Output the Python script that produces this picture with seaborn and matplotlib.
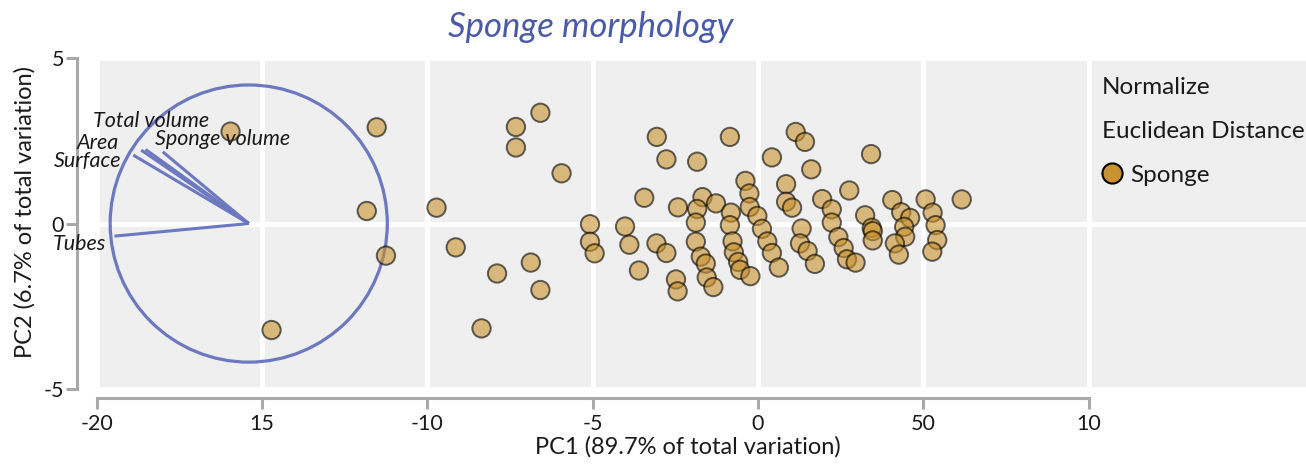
import matplotlib
matplotlib.use("Agg")
import matplotlib.pyplot as plt
from matplotlib.patches import Circle
import pandas as pd
import seaborn as sns

# PCA scores of the sponge samples
pc1 = [-15.95, -14.71, -11.53, -11.83, -11.25, -9.72, -9.14, -7.89, -6.87, -6.58,
       -8.36, -7.32, -7.32, -6.58, -5.94,
       -5.08, -5.08, -4.94, -4.02, -3.89, -3.60, -3.44, -3.06, -2.77, -3.07,
       -2.77, -2.48, -2.43, -2.42, -1.84, -1.68, -1.84, -1.88, -1.88, -1.73,
       -1.58, -1.55, -1.35, -1.27, -0.85, -0.82, -0.85, -0.77, -0.73, -0.60,
       -0.54, -0.23, -0.38, -0.26, -0.25, -0.02, 0.12, 0.28, 0.42, 0.63,
       0.42, 1.14, 1.42, 1.61, 0.85, 0.85, 1.03, 1.32, 1.27, 1.50,
       1.72, 1.94, 2.23, 2.23, 2.43, 2.59, 2.69, 2.95, 2.76, 3.42,
       3.24, 3.44, 3.47, 3.47, 4.06, 4.33, 4.60, 4.42, 4.45, 4.14,
       4.26, 5.07, 5.28, 5.37, 5.42, 5.27, 6.16]
pc2 = [2.78, -3.22, 2.91, 0.38, -0.97, 0.48, -0.72, -1.51, -1.18, -2.01,
       -3.17, 2.92, 2.30, 3.35, 1.52,
       -0.02, -0.55, -0.90, -0.09, -0.64, -1.42, 0.78, 2.62, 1.94, -0.60,
       -0.89, -1.69, -2.05, 0.49, 1.87, 0.80, 0.44, 0.03, -0.55, -1.00,
       -1.21, -1.63, -1.92, 0.61, 2.62, 0.33, -0.05, -0.54, -0.87, -1.16,
       -1.40, -1.59, 1.29, 0.91, 0.50, 0.23, -0.16, -0.54, -0.89, -1.33,
       2.00, 2.77, 2.47, 1.64, 1.19, 0.66, 0.48, -0.15, -0.60, -0.83,
       -1.22, 0.74, 0.43, 0.03, -0.41, -0.74, -1.08, -1.18, 1.00, 2.10,
       0.25, -0.13, -0.23, -0.51, 0.71, 0.34, 0.17, -0.10, -0.40, -0.60,
       -0.94, 0.73, 0.33, -0.05, -0.50, -0.85, 0.73]
group_name = "Sponge"

# Variable loadings (vectors from the circle centre) and the correlation circle
variables = ["Total volume", "Area", "Sponge volume", "Surface", "Tubes"]
loading_x = [-3.12, -3.25, -2.60, -3.49, -4.06]
loading_y = [2.24, 2.22, 2.17, 2.07, -0.38]
loading_origin = (-15.4, 0.0)
circle_radius = 4.19

x_ticks = [-20, -15, -10, -5, 0, 5, 10]
x_tick_labels = ["-20", "15", "-10", "-5", "0", "50", "10"]
y_ticks = [-5, 0, 5]
y_tick_labels = ["-5", "0", "5"]

title = "Sponge morphology"
x_label = "PC1 (89.7% of total variation)"
y_label = "PC2 (6.7% of total variation)"
legend_header = ["Normalize", "Euclidean Distance"]

# ---- styling -------------------------------------------------------------
W, H = 1306, 466
panel_color = "#efefef"
spine_color = "#a9a9a9"
vector_color = "#6c78bf"
title_color = "#4a5aa8"
point_color = "#c8922e"
text_color = "#1a1a1a"

sns.set_theme(style="darkgrid", rc={
    "axes.facecolor": panel_color,
    "grid.color": "white",
    "grid.linewidth": 3.5,
})
plt.rcParams["font.family"] = ["Lato", "DejaVu Sans"]

fig = plt.figure(figsize=(W / 100, H / 100), dpi=100)
px = 33.07  # pixels per data unit, same on both axes
left_px, bottom_px = 96.6, 388.9
ax = fig.add_axes([left_px / W, 1 - bottom_px / H,
                   (W - left_px) / W, 10 * px / H])
ax.set_xlim(-20, -20 + (W - left_px) / px)
ax.set_ylim(-5, 5)

# correlation circle and loading vectors
ox, oy = loading_origin
ax.add_patch(Circle(loading_origin, circle_radius, fill=False,
                    edgecolor=vector_color, linewidth=2.3, zorder=2))
for dx, dy in zip(loading_x, loading_y):
    ax.plot([ox, ox + dx], [oy, oy + dy], color=vector_color,
            linewidth=2.2, solid_capstyle="butt", zorder=2)

# sample scores
df = pd.DataFrame({"PC1": pc1, "PC2": pc2, "Group": group_name})
sns.scatterplot(data=df, x="PC1", y="PC2", hue="Group",
                palette={group_name: point_color}, s=175, alpha=0.6,
                edgecolor="black", linewidth=1.4, ax=ax, zorder=3)

# variable labels next to the vector tips
label_layout = {
    "Total volume": (-18.36, 2.93, "center"),
    "Area": (-19.31, 2.24, "right"),
    "Sponge volume": (-18.23, 2.37, "left"),
    "Surface": (-19.24, 1.70, "right"),
    "Tubes": (-19.72, -0.80, "right"),
}
for name in variables:
    tx, ty, ha = label_layout[name]
    ax.text(tx, ty, name, ha=ha, va="baseline", fontsize=15.5,
            style="italic", color=text_color, zorder=4)

# axes, ticks and grid
ax.set_xticks(x_ticks, x_tick_labels)
ax.set_yticks(y_ticks, y_tick_labels)
ax.grid(True, color="white", linewidth=3.5)
ax.set_axisbelow(True)
for side in ("top", "right"):
    ax.spines[side].set_visible(False)
ax.spines["left"].set_position(("outward", 14))
ax.spines["bottom"].set_position(("outward", 6.8))
ax.spines["left"].set_bounds(-5, 5)
ax.spines["bottom"].set_bounds(-20, 10)
for side in ("left", "bottom"):
    ax.spines[side].set_visible(True)
    ax.spines[side].set_color(spine_color)
    ax.spines[side].set_linewidth(2.2)
ax.tick_params(axis="both", bottom=True, left=True, length=8, width=2.2,
               color=spine_color, labelsize=15.5, labelcolor=text_color)
ax.tick_params(axis="x", pad=3)
ax.tick_params(axis="y", pad=1.5)

ax.set_xlabel(x_label, fontsize=17, color=text_color)
ax.xaxis.set_label_coords((688 - left_px) / (W - left_px),
                          (bottom_px - 436) / (10 * px))
ax.set_ylabel(y_label, fontsize=17, color=text_color)
ax.yaxis.set_label_coords((36 - left_px) / (W - left_px),
                          (bottom_px - 212.5) / (10 * px))

fig.text(591 / W, 1 - 36.7 / H, title, ha="center", va="baseline",
         fontsize=25, style="italic", color=title_color)

# legend block
for i, line in enumerate(legend_header):
    fig.text(1102 / W, 1 - (94.3 + 44 * i) / H, line, ha="left",
             va="baseline", fontsize=17.5, color=text_color)
leg = ax.legend(loc="center left", bbox_to_anchor=(1100.7 / W, 1 - 175 / H),
                bbox_transform=fig.transFigure, frameon=False, title=None,
                fontsize=17.5, borderpad=0, borderaxespad=0,
                handlelength=0.93, handletextpad=0.3)
for h in leg.legend_handles:
    h.set_alpha(1)
    h.set_markerfacecolor(point_color)
    h.set_markeredgecolor("black")
    h.set_markeredgewidth(1.5)
    h.set_markersize(14.5)
for t in leg.get_texts():
    t.set_color(text_color)

fig.savefig("out.png", dpi=100)
